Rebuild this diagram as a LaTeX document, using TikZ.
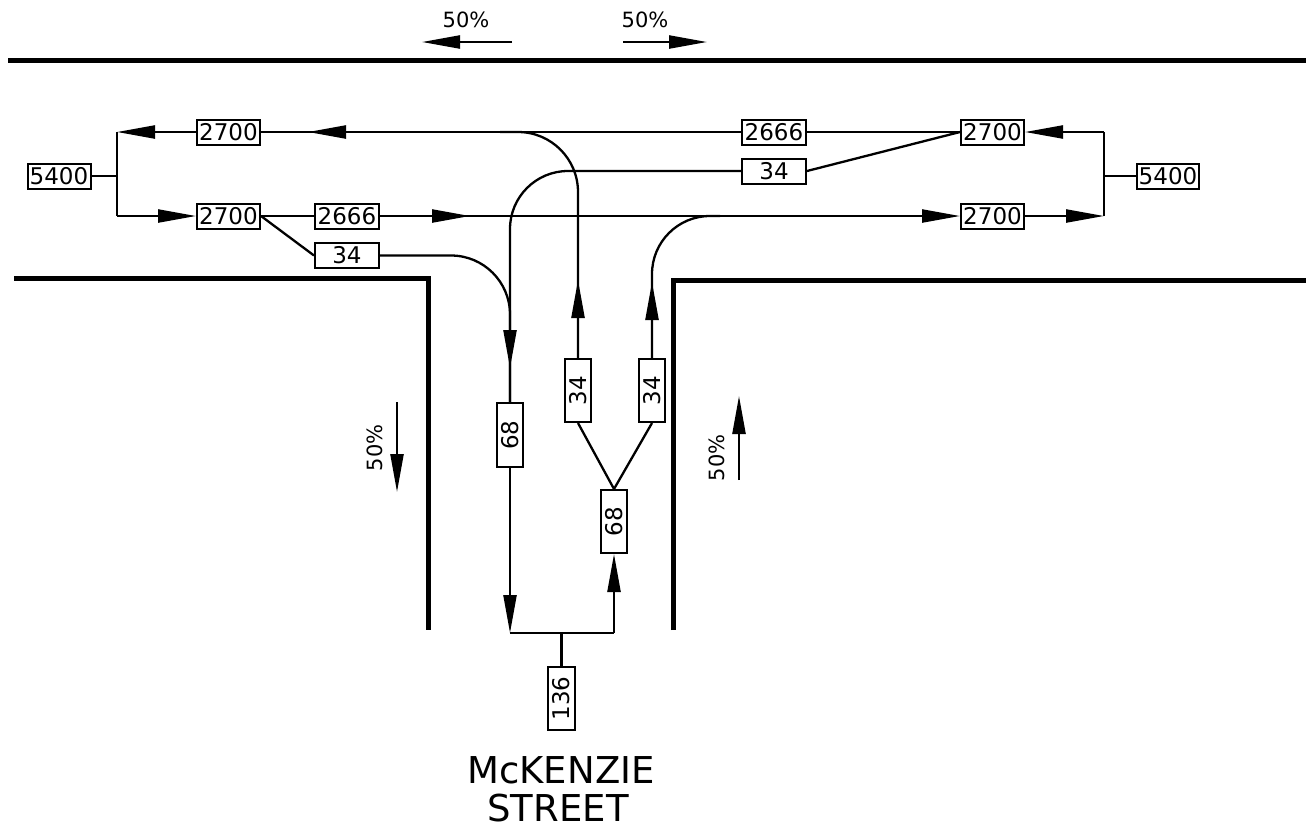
\documentclass[tikz,border=0pt]{standalone}
\usepackage{fontspec}
\usepackage{graphicx}
\newfontfamily\cad{DejaVu Sans}
\usetikzlibrary{arrows.meta}
\begin{document}
\begin{tikzpicture}[x=1pt,y=-1pt,
  ln/.style={line width=2.3pt},
  road/.style={line width=5pt},
  arr/.style={ln,-{Triangle[length=38pt,width=13pt]}},
  box/.style={draw,line width=2pt,inner sep=0pt,minimum width=63pt,minimum height=25pt,font=\cad\fontsize{23}{23}\selectfont},
  vbox/.style={box,minimum width=26pt,minimum height=63pt},
  lbl/.style={font=\cad\fontsize{21}{21}\selectfont,inner sep=0pt},
  street/.style={font=\cad\fontsize{37}{37}\selectfont,inner sep=0pt}]
\useasboundingbox (0,0) rectangle (1306,831);

% roads
\draw[road] (8,60) -- (1306,60);
\draw[road] (14,278) -- (428,278) -- (428,630);
\draw[road] (673,630) -- (673,280) -- (1306,280);

% direction arrows and labels
\node[lbl] (tl50) at (466,20) {50\%};
\node[lbl] (tr50) at (645,20) {50\%};
\coordinate (ta1) at (512,42); \coordinate (ta2) at (422,42);
\coordinate (tb1) at (623,42); \coordinate (tb2) at (707,42);
\draw[arr] (ta1) -- (ta2);
\draw[arr] (tb1) -- (tb2);
\node[lbl,rotate=90] (l50) at (375,448) {50\%};
\node[lbl,rotate=90] (r50) at (717,458) {50\%};
\coordinate (la1) at (397,402); \coordinate (la2) at (397,492);
\coordinate (ra1) at (739,480); \coordinate (ra2) at (739,396);
\draw[arr] (la1) -- (la2);
\draw[arr] (ra1) -- (ra2);

% boxes
\node[box] (L5400) at (59,176) {5400};
\node[box] (tl2700) at (228.5,132) {2700};
\node[box] (bl2700) at (228.5,216) {2700};
\node[box,minimum width=64pt] (bc2666) at (347,216) {2666};
\node[box,minimum width=64pt] (b34) at (347,255.5) {34};
\node[box,minimum width=64pt] (tc2666) at (774,132) {2666};
\node[box,minimum width=64pt] (t34) at (774,171) {34};
\node[box] (tr2700) at (992.5,132) {2700};
\node[box] (br2700) at (992.5,216) {2700};
\node[box,minimum width=62pt] (R5400) at (1168,176) {5400};
\node[vbox,minimum height=64pt] (l68) at (510,435) {\rotatebox{90}{68}};
\node[vbox] (v34L) at (578,390.5) {\rotatebox{90}{34}};
\node[vbox] (v34R) at (652,390.5) {\rotatebox{90}{34}};
\node[vbox] (r68) at (614,521.5) {\rotatebox{90}{68}};
\node[vbox,minimum width=27pt] (b136) at (561.5,698.5) {\rotatebox{90}{136}};

% junction coordinates
\coordinate (jlT) at (117,132);
\coordinate (jlM) at (117,176);
\coordinate (jlB) at (117,216);
\coordinate (jrT) at (1104,132);
\coordinate (jrM) at (1104,176);
\coordinate (jrB) at (1104,216);
\coordinate (sL) at (510,633);
\coordinate (sR) at (614,633);
\coordinate (sM) at (561.5,633);
\coordinate (topJ) at (500,132);
\coordinate (botJ) at (720,216);

% left split
\draw[ln] (L5400.east) -- (jlM);
\draw[ln] (jlT) -- (jlB);
\draw[arr] (tl2700.west) -- (jlT);
\draw[arr] (jlB) -- (bl2700.west);
% right split
\draw[ln] (R5400.west) -- (jrM);
\draw[ln] (jrT) -- (jrB);
\draw[arr] (jrT) -- (tr2700.east);
\draw[arr] (br2700.east) -- (jrB);

% westbound main line
\draw[ln] (tr2700.west) -- (tc2666.east);
\draw[ln] (tc2666.west) -- (tl2700.east);
\draw[arr] (346,132) -- (308,132);
% eastbound main line
\draw[ln] (bl2700.east) -- (bc2666.west);
\draw[arr] (bc2666.east) -- (br2700.west);
\draw[arr] (432,216) -- (470,216);

% turning movements
\draw[ln] (tr2700.west) -- (t34.east);
\draw[ln] (bl2700.east) -- (b34.west);
\draw[ln,rounded corners=58pt] (t34.west) -| (l68.north);
\draw[ln,rounded corners=59pt] (b34.east) -| (l68.north);
\draw[arr] (510,330) -- (510,368);
\draw[ln,rounded corners=60pt] (v34L.north) |- (topJ);
\draw[arr] (578,318) -- (578,280);
\draw[ln,rounded corners=58pt] (v34R.north) |- (botJ);
\draw[arr] (652,320) -- (652,282);

% side street
\draw[arr] (l68.south) -- (sL);
\draw[ln] (sL) -- (sR);
\draw[arr] (sR) -- (r68.south);
\draw[ln] (b136.north) -- (sM);
\draw[ln] (v34L.south) -- (r68.north);
\draw[ln] (v34R.south) -- (r68.north);

% street name
\node[street] (name1) at (561,770) {McKENZIE};
\node[street] (name2) at (558,808) {STREET};
\end{tikzpicture}
\end{document}
